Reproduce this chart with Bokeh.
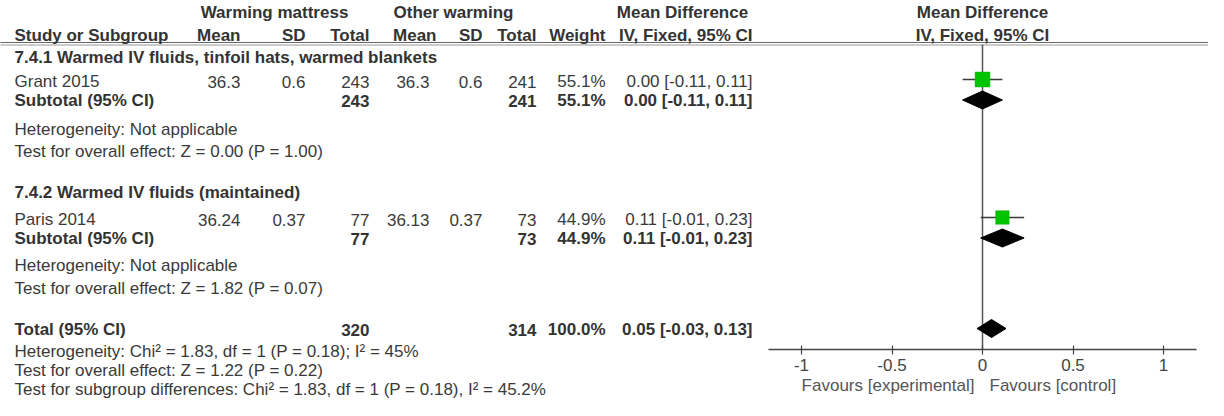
import math
from bokeh.plotting import figure
from bokeh.models import Range1d, LinearAxis, FixedTicker, ColumnDataSource
from bokeh.embed import file_html
from bokeh.resources import INLINE
from bokeh.core.properties import value

# ---------------- data ----------------
group_names = ["Warming mattress", "Other warming"]
subgroups = ["7.4.1 Warmed IV fluids, tinfoil hats, warmed blankets",
             "7.4.2 Warmed IV fluids (maintained)"]
studies = ["Grant 2015", "Paris 2014"]
exp_mean = [36.3, 36.24]
exp_sd = [0.6, 0.37]
exp_n = [243, 77]
ctl_mean = [36.3, 36.13]
ctl_sd = [0.6, 0.37]
ctl_n = [241, 73]
weight = [55.1, 44.9]
md = [0.00, 0.11]
md_lo = [-0.11, -0.01]
md_hi = [0.11, 0.23]
sub_exp_n = [243, 77]
sub_ctl_n = [241, 73]
sub_weight = [55.1, 44.9]
sub_md = [0.00, 0.11]
sub_lo = [-0.11, -0.01]
sub_hi = [0.11, 0.23]
sub_het = ["Heterogeneity: Not applicable", "Heterogeneity: Not applicable"]
sub_test = ["Test for overall effect: Z = 0.00 (P = 1.00)",
            "Test for overall effect: Z = 1.82 (P = 0.07)"]
total_exp_n = 320
total_ctl_n = 314
total_weight = 100.0
total_md = 0.05
total_lo = -0.03
total_hi = 0.13
total_notes = ["Heterogeneity: Chi\u00b2 = 1.83, df = 1 (P = 0.18); I\u00b2 = 45%",
               "Test for overall effect: Z = 1.22 (P = 0.22)",
               "Test for subgroup differences: Chi\u00b2 = 1.83, df = 1 (P = 0.18), I\u00b2 = 45.2%"]
ticks = [-1, -0.5, 0, 0.5, 1]
tick_labels = ["-1", "-0.5", "0", "0.5", "1"]
favours = ["Favours [experimental]", "Favours [control]"]
col_heads = ["Mean", "SD", "Total"]

# ---------------- layout / style ----------------
FONT = "Liberation Sans"
FS = "17px"
TXT = "#3a3a3a"
BOLD = "#333333"
COL = dict(name=22, em=248, esd=313, en=377, cm=437, cmh=444, csd=490, cn=544, w=613, ci=760)
blocks = [dict(head=65, study=89, sub=108, het=137, test=159),
          dict(head=200, study=227, sub=246, het=273, test=296)]
Y_TOTAL = 337
Y_NOTES = [359, 378, 397]
Y_AXIS = 357
ZERO_PX = 990.0
PX_PER_UNIT = 181.0


def fmt_ci(m, lo, hi):
    return f"{m:.2f} [{lo:.2f}, {hi:.2f}]"


items = {}


def put(x, y, s, align="left", bold=False, color=None):
    key = (align, bold, color or (BOLD if bold else TXT))
    d = items.setdefault(key, {"x": [], "y": [], "text": []})
    d["x"].append(x)
    d["y"].append(y)
    d["text"].append(s)


# headers
put(282, 20, group_names[0], "center", True)
put(461, 20, group_names[1], "center", True)
put(690, 20, "Mean Difference", "center", True)
put(990, 20, "Mean Difference", "center", True)
put(COL["name"], 43, "Study or Subgroup", "left", True)
put(COL["em"], 43, col_heads[0], "right", True)
put(COL["esd"], 43, col_heads[1], "right", True)
put(COL["en"], 43, col_heads[2], "right", True)
put(COL["cmh"], 43, col_heads[0], "right", True)
put(COL["csd"], 43, col_heads[1], "right", True)
put(COL["cn"], 43, col_heads[2], "right", True)
put(COL["w"], 43, "Weight", "right", True)
put(COL["ci"], 43, "IV, Fixed, 95% CI", "right", True)
put(990, 43, "IV, Fixed, 95% CI", "center", True)

for i, b in enumerate(blocks):
    put(COL["name"], b["head"], subgroups[i], "left", True)
    put(COL["name"], b["study"], studies[i])
    put(COL["em"], b["study"], str(exp_mean[i]), "right")
    put(COL["esd"], b["study"], str(exp_sd[i]), "right")
    put(COL["en"], b["study"], str(exp_n[i]), "right")
    put(COL["cm"], b["study"], str(ctl_mean[i]), "right")
    put(COL["csd"], b["study"], str(ctl_sd[i]), "right")
    put(COL["cn"], b["study"], str(ctl_n[i]), "right")
    put(COL["w"], b["study"], f"{weight[i]:.1f}%", "right")
    put(COL["ci"], b["study"], fmt_ci(md[i], md_lo[i], md_hi[i]), "right")
    put(COL["name"], b["sub"], "Subtotal (95% CI)", "left", True)
    put(COL["en"], b["sub"], str(sub_exp_n[i]), "right", True)
    put(COL["cn"], b["sub"], str(sub_ctl_n[i]), "right", True)
    put(COL["w"], b["sub"], f"{sub_weight[i]:.1f}%", "right", True)
    put(COL["ci"], b["sub"], fmt_ci(sub_md[i], sub_lo[i], sub_hi[i]), "right", True)
    put(COL["name"], b["het"], sub_het[i])
    put(COL["name"], b["test"], sub_test[i])

put(COL["name"], Y_TOTAL, "Total (95% CI)", "left", True)
put(COL["en"], Y_TOTAL, str(total_exp_n), "right", True)
put(COL["cn"], Y_TOTAL, str(total_ctl_n), "right", True)
put(COL["w"], Y_TOTAL, f"{total_weight:.1f}%", "right", True)
put(COL["ci"], Y_TOTAL, fmt_ci(total_md, total_lo, total_hi), "right", True)
for y, s in zip(Y_NOTES, total_notes):
    put(COL["name"], y, s)

put(982, 393, favours[0], "right", False, "#555555")
put(997, 393, favours[1], "left", False, "#555555")

# ---------------- figure ----------------
W, H = 1208, 400
p = figure(width=W, height=H, x_range=Range1d(8, 8 + W), y_range=Range1d(8 + H, 8),
           x_axis_type=None, y_axis_type=None, output_backend="svg",
           toolbar_location=None, min_border=0, outline_line_color=None)
p.background_fill_color = "white"
p.border_fill_color = "white"
p.extra_x_ranges = {"md": Range1d((8 - ZERO_PX) / PX_PER_UNIT, (8 + W - ZERO_PX) / PX_PER_UNIT)}

# header double rule
p.segment(x0=[0, 0], y0=[50, 52.5], x1=[1230, 1230], y1=[50, 52.5],
          line_color=["#666666", "#9a9a9a"], line_width=1.2)

# null line
p.segment(x0=[0], y0=[52], x1=[0], y1=[Y_AXIS], x_range_name="md",
          line_color="#555555", line_width=1.5)

for key, d in items.items():
    align, bold, color = key
    p.text(x="x", y="y", text="text", source=ColumnDataSource(d),
           text_align=align, text_baseline="middle",
           text_font=value(FONT), text_font_size=FS,
           text_font_style="bold" if bold else "normal", text_color=color)

# study CIs and squares
study_y = [b["study"] - 2 for b in blocks]
p.segment(x0=md_lo, y0=study_y, x1=md_hi, y1=study_y, x_range_name="md",
          line_color="#3a3a3a", line_width=1.5)
sizes = [20 * math.sqrt(w / 100.0) for w in weight]
p.scatter(x=md, y=study_y, size=sizes, marker="square", x_range_name="md",
          fill_color="#00c400", line_color="#00b000", line_width=0.5)

# diamonds
HALF = 9
dx, dy = [], []
for i, b in enumerate(blocks):
    yc = b["sub"] - 0.5
    dx.append([sub_lo[i], sub_md[i], sub_hi[i], sub_md[i]])
    dy.append([yc, yc - HALF, yc, yc + HALF])
yc = Y_TOTAL - 1
dx.append([total_lo, total_md, total_hi, total_md])
dy.append([yc, yc - HALF, yc, yc + HALF])
p.patches(xs=dx, ys=dy, x_range_name="md", fill_color="black", line_color="black")

# forest axis
ax = LinearAxis(x_range_name="md", ticker=FixedTicker(ticks=ticks),
                bounds=(-1.18, 1.18), fixed_location=Y_AXIS)
ax.major_label_overrides = {t: s for t, s in zip(ticks, tick_labels)}
ax.axis_line_color = "#444444"
ax.axis_line_width = 1.5
ax.major_tick_line_color = "#444444"
ax.major_tick_line_width = 1.2
ax.major_tick_in = 4
ax.major_tick_out = 5
ax.minor_tick_line_color = None
ax.major_label_text_font = FONT
ax.major_label_text_font_size = FS
ax.major_label_text_color = "#444444"
ax.major_label_standoff = 4
p.add_layout(ax, "below")

open("out.html", "w").write(file_html(p, INLINE))
